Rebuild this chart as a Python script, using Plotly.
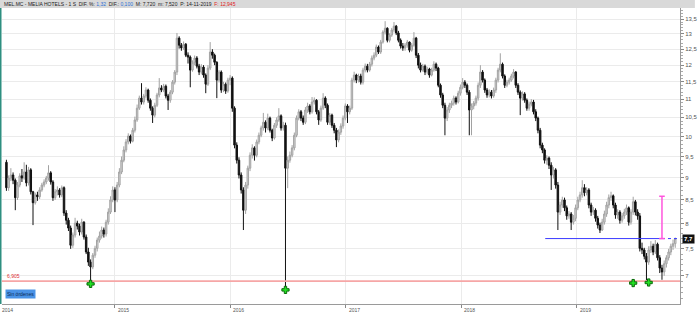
import numpy as np
import pandas as pd
import plotly.graph_objects as go

# ---------------- data (weekly candles, MEL.MC) ----------------
start_date = "2014-01-24"
first_open = 9.36

closes = [
    8.77, 8.99, 9.06, 8.94, 8.55, 8.83, 9.04, 8.99, 9.13, 8.88,
    9.18, 8.68, 8.44, 8.61, 8.57, 8.72, 8.83, 8.90, 8.99, 9.11,
    8.90, 8.55, 8.68, 8.72, 8.61, 8.77, 8.22, 8.07, 7.91, 7.57,
    7.77, 8.01, 7.95, 7.83, 8.03, 7.73, 7.44, 7.25, 7.16, 7.38,
    7.51, 7.67, 7.75, 7.87, 7.79, 8.03, 8.24, 8.50, 8.72, 8.50,
    8.83, 9.13, 9.41, 9.66, 9.86, 10.01, 9.88, 10.16, 10.43, 10.75,
    11.03, 10.92, 11.09, 11.26, 10.97, 10.75, 10.56, 10.83, 11.12, 11.32,
    11.26, 11.37, 11.09, 10.97, 11.20, 11.49, 11.79, 12.86, 12.63, 12.54,
    12.66, 12.31, 12.25, 11.85, 12.09, 12.22, 11.97, 11.79, 11.94, 11.70,
    11.43, 11.91, 12.41, 12.31, 12.09, 11.55, 11.79, 11.26, 11.43, 11.23,
    11.55, 11.61, 10.75, 9.78, 9.41, 9.06, 8.72, 8.28, 8.83, 9.22,
    9.53, 9.71, 9.53, 9.86, 10.03, 10.22, 10.37, 10.22, 10.48, 10.16,
    9.96, 10.29, 10.43, 10.54, 10.22, 10.29, 9.22, 9.41, 9.53, 9.71,
    10.03, 10.48, 10.65, 10.48, 10.37, 10.70, 10.81, 10.65, 10.92, 10.97,
    10.65, 10.43, 10.75, 11.03, 10.83, 10.37, 10.56, 10.29, 10.16, 9.91,
    10.11, 10.27, 10.48, 10.81, 10.65, 10.75, 11.55, 11.70, 11.55, 11.67,
    11.49, 11.85, 11.97, 11.85, 12.03, 12.22, 12.31, 12.57, 12.41, 12.73,
    13.06, 13.19, 12.79, 12.96, 13.13, 13.26, 13.03, 12.79, 12.60, 12.54,
    12.63, 12.73, 12.47, 12.63, 12.86, 12.31, 12.00, 11.85, 11.97, 11.79,
    11.88, 11.70, 11.85, 12.03, 11.91, 11.40, 11.12, 10.83, 10.48, 10.70,
    10.83, 10.89, 11.03, 10.92, 11.17, 11.34, 11.49, 11.40, 11.20, 10.70,
    10.81, 10.89, 11.03, 11.40, 11.79, 11.55, 11.26, 11.12, 11.20, 11.09,
    11.26, 11.55, 11.85, 12.03, 11.67, 11.40, 11.49, 11.55, 11.67, 11.79,
    11.40, 11.20, 11.03, 11.15, 10.97, 10.75, 10.86, 10.92, 10.65, 10.48,
    10.16, 9.78, 9.66, 9.41, 9.46, 9.29, 9.06, 9.18, 8.83, 8.24,
    8.39, 8.50, 8.33, 8.16, 8.20, 8.03, 8.11, 8.33, 8.50, 8.61,
    8.77, 8.66, 8.72, 8.39, 8.24, 8.28, 8.11, 7.97, 7.87, 8.03,
    8.20, 8.39, 8.55, 8.59, 8.39, 8.18, 8.24, 8.07, 8.16, 8.24,
    8.33, 8.03, 8.24, 8.46, 8.24, 8.16, 7.51, 7.48, 7.36, 7.25,
    7.48, 7.55, 7.44, 7.59, 7.33, 7.14, 7.07, 7.22, 7.33, 7.44,
    7.55, 7.60, 7.70,
]

highs = [
    9.42, 9.05, 9.22, 9.12, 8.98, 8.90, 9.10, 9.20, 9.36, 9.30,
    9.25, 9.22, 8.70, 8.66, 8.68, 8.78, 8.88, 8.96, 9.04, 9.29,
    9.15, 8.94, 8.74, 8.80, 8.76, 8.82, 8.80, 8.28, 8.12, 7.96,
    7.82, 8.12, 8.06, 8.00, 8.10, 8.05, 7.78, 7.52, 7.30, 7.42,
    7.56, 7.72, 7.84, 7.94, 7.92, 8.08, 8.32, 8.58, 8.80, 8.78,
    8.90, 9.22, 9.50, 9.75, 9.93, 10.08, 10.05, 10.22, 10.52, 10.85,
    11.10, 11.46, 11.15, 11.34, 11.30, 11.02, 10.80, 10.90, 11.18, 11.61,
    11.40, 11.44, 11.42, 11.15, 11.26, 11.55, 11.85, 13.03, 12.92, 12.70,
    12.75, 12.70, 12.40, 12.30, 12.15, 12.30, 12.28, 12.04, 12.03, 12.00,
    11.75, 12.00, 12.73, 12.50, 12.36, 12.12, 11.85, 11.84, 11.50, 11.48,
    11.62, 11.70, 11.66, 10.80, 9.85, 9.48, 9.12, 8.78, 8.90, 9.28,
    9.60, 9.80, 9.75, 9.92, 10.10, 10.28, 10.62, 10.42, 10.60, 10.52,
    10.20, 10.35, 10.50, 10.75, 10.58, 10.38, 10.36, 9.50, 9.62, 9.78,
    10.10, 10.55, 10.72, 10.70, 10.55, 10.78, 10.90, 10.86, 11.06, 11.05,
    11.00, 10.70, 10.82, 11.17, 11.08, 10.88, 10.62, 10.60, 10.35, 10.22,
    10.18, 10.34, 10.55, 10.88, 10.86, 10.82, 11.62, 11.80, 11.74, 11.74,
    11.74, 11.92, 12.05, 12.04, 12.10, 12.30, 12.40, 12.65, 12.62, 12.80,
    13.12, 13.43, 13.22, 13.02, 13.20, 13.40, 13.30, 13.10, 12.85, 12.70,
    12.70, 12.80, 12.75, 12.70, 13.06, 12.90, 12.38, 12.08, 12.04, 12.02,
    11.95, 11.92, 11.92, 12.12, 12.08, 11.95, 11.45, 11.18, 10.90, 10.78,
    10.90, 10.96, 11.10, 11.08, 11.24, 11.42, 11.61, 11.55, 11.45, 11.26,
    10.88, 10.95, 11.10, 11.48, 12.00, 11.85, 11.60, 11.32, 11.28, 11.26,
    11.33, 11.62, 11.92, 12.37, 12.08, 11.72, 11.56, 11.62, 11.74, 11.88,
    11.82, 11.46, 11.25, 11.22, 11.20, 11.02, 10.93, 11.00, 10.98, 10.72,
    10.52, 10.22, 9.84, 9.70, 9.53, 9.50, 9.36, 9.25, 9.22, 8.90,
    8.46, 8.57, 8.55, 8.38, 8.26, 8.24, 8.18, 8.40, 8.57, 8.68,
    8.94, 8.85, 8.78, 8.76, 8.44, 8.35, 8.32, 8.16, 8.02, 8.10,
    8.27, 8.46, 8.62, 8.68, 8.62, 8.44, 8.30, 8.28, 8.22, 8.31,
    8.40, 8.36, 8.30, 8.57, 8.50, 8.30, 8.22, 7.62, 7.52, 7.42,
    7.55, 7.65, 7.60, 7.67, 7.62, 7.38, 7.20, 7.28, 7.38, 7.50,
    7.60, 7.68, 7.72,
]

lows = [
    8.70, 8.70, 8.92, 8.85, 8.28, 8.50, 8.78, 8.90, 8.95, 8.80,
    8.82, 8.62, 7.97, 8.40, 8.48, 8.52, 8.68, 8.78, 8.85, 8.93,
    8.84, 8.48, 8.50, 8.60, 8.55, 8.56, 8.16, 7.98, 7.85, 7.50,
    7.52, 7.72, 7.88, 7.76, 7.78, 7.68, 7.40, 7.18, 6.905, 7.12,
    7.33, 7.45, 7.62, 7.70, 7.72, 7.74, 7.98, 8.20, 8.45, 8.24,
    8.45, 8.78, 9.08, 9.36, 9.60, 9.80, 9.82, 9.85, 10.10, 10.38,
    10.70, 10.85, 10.85, 11.02, 10.90, 10.68, 10.35, 10.50, 10.78, 11.05,
    11.20, 11.20, 11.02, 10.70, 10.90, 11.14, 11.42, 11.70, 12.52, 12.45,
    12.48, 12.25, 12.05, 11.34, 11.80, 12.00, 11.90, 11.70, 11.72, 11.62,
    11.17, 11.38, 11.85, 12.20, 12.00, 11.03, 11.48, 11.18, 11.20, 11.15,
    11.18, 11.40, 10.65, 9.70, 9.33, 8.98, 8.64, 7.87, 8.20, 8.75,
    9.15, 9.45, 9.40, 9.48, 9.80, 9.98, 10.15, 10.10, 10.16, 10.10,
    9.88, 9.92, 10.22, 10.38, 10.15, 10.15, 6.80, 8.76, 9.35, 9.48,
    9.65, 9.98, 10.42, 10.40, 10.30, 10.32, 10.62, 10.58, 10.60, 10.85,
    10.58, 10.30, 10.38, 10.70, 10.75, 10.30, 10.30, 10.22, 10.08, 9.73,
    9.85, 10.04, 10.20, 10.42, 10.35, 10.58, 10.70, 11.48, 11.46, 11.48,
    11.42, 11.42, 11.78, 11.78, 11.80, 11.96, 12.15, 12.25, 12.35, 12.35,
    12.68, 12.98, 12.72, 12.72, 12.90, 13.05, 12.96, 12.72, 12.52, 12.45,
    12.45, 12.55, 12.40, 12.42, 12.58, 12.22, 11.90, 11.78, 11.80, 11.70,
    11.72, 11.62, 11.66, 11.80, 11.82, 11.34, 11.04, 10.75, 10.03, 10.40,
    10.62, 10.75, 10.82, 10.85, 10.88, 11.10, 11.28, 11.32, 11.12, 10.03,
    10.03, 10.72, 10.82, 10.96, 11.32, 11.48, 11.18, 11.04, 11.05, 11.02,
    11.04, 11.18, 11.48, 11.78, 11.60, 11.32, 11.34, 11.42, 11.50, 11.60,
    11.32, 11.12, 10.56, 10.96, 10.90, 10.68, 10.68, 10.80, 10.58, 10.40,
    10.08, 9.70, 9.58, 9.33, 9.30, 9.20, 8.72, 8.98, 8.75, 7.87,
    8.18, 8.33, 8.26, 8.08, 8.10, 7.87, 7.98, 8.05, 8.28, 8.45,
    8.55, 8.58, 8.60, 8.32, 8.16, 8.18, 8.04, 7.90, 7.81, 7.85,
    7.98, 8.14, 8.32, 8.48, 8.32, 8.10, 8.10, 8.00, 8.02, 8.10,
    8.18, 7.96, 7.98, 8.18, 8.17, 8.08, 7.45, 7.40, 7.30, 6.92,
    7.20, 7.42, 7.38, 7.40, 7.28, 7.05, 6.93, 7.00, 7.15, 7.28,
    7.38, 7.48, 7.52,
]

# buy-signal markers (dates of the marked lows)
signal_dates = ["2014-10-17", "2016-06-24", "2019-06-28", "2019-08-16"]
signal_lows = [6.905, 6.80, 6.92, 6.93]

support_level = 6.905
resistance_level = 7.70
resistance_start = "2018-09-23"
resistance_mark = "2019-09-27"
resistance_end = "2019-11-15"
target_level = 8.58
last_price = 7.70

y_tick_vals = [7, 7.5, 8, 8.5, 9, 9.5, 10, 10.5, 11, 11.5, 12, 12.5, 13, 13.5]
y_tick_text = ["7", "7,5", "8", "8,5", "9", "9,5", "10", "10,5", "11", "11,5",
               "12", "12,5", "13", "13,5"]
year_dates = ["2015-01-01", "2016-01-01", "2017-01-01", "2018-01-01", "2019-01-01"]
year_labels = ["2015", "2016", "2017", "2018", "2019"]

header = ("MEL.MC - MELIA HOTELS - 1 S &nbsp;DIF. %: <span style='color:#2a6fd6'>1,32</span>"
          " &nbsp;DIF.: <span style='color:#2a6fd6'>0,100</span> &nbsp;M: 7,720 &nbsp;m: 7,520"
          " &nbsp;P: 14-11-2019 &nbsp;<span style='color:#e02020'>F: 12,945</span>")

# ---------------- build ----------------
assert len(closes) == len(highs) == len(lows)
n = len(closes)
dates = pd.date_range(start_date, periods=n, freq="7D")
opens = [first_open] + closes[:-1]
highs = [max(h, o, c) for h, o, c in zip(highs, opens, closes)]
lows = [min(l, o, c) for l, o, c in zip(lows, opens, closes)]

FONT = "Arial, Liberation Sans, sans-serif"
W, H = 700, 312
ML, MR, MT, MB = 2, 15, 8, 8
PW, PH = W - ML - MR, H - MT - MB
ylo, yhi = 6.513, 13.89

fig = go.Figure()

# support line (red)
fig.add_trace(go.Scatter(x=["2013-11-01", "2020-02-01"], y=[support_level, support_level],
                         mode="lines", line=dict(color="#f6a6a6", width=1.8),
                         hoverinfo="skip", showlegend=False))

fig.add_trace(go.Candlestick(
    x=dates, open=opens, high=highs, low=lows, close=closes,
    increasing=dict(line=dict(color="#a2a2a2", width=1), fillcolor="#d8d8d8"),
    decreasing=dict(line=dict(color="#111111", width=1), fillcolor="#111111"),
    whiskerwidth=0, showlegend=False))

# resistance line (blue)
fig.add_trace(go.Scatter(x=[resistance_start, resistance_mark], y=[resistance_level] * 2,
                         mode="lines", line=dict(color="#3a3aff", width=1),
                         hoverinfo="skip", showlegend=False))
fig.add_trace(go.Scatter(x=[resistance_mark, resistance_end], y=[resistance_level] * 2,
                         mode="lines", line=dict(color="#3a3aff", width=1, dash="dot"),
                         hoverinfo="skip", showlegend=False))
# target (pink)
fig.add_trace(go.Scatter(x=[resistance_mark, resistance_mark], y=[resistance_level, target_level],
                         mode="lines+markers", line=dict(color="#ff55dd", width=1.5),
                         marker=dict(symbol="line-ew", size=4, line=dict(color="#ff55dd", width=1.5)),
                         hoverinfo="skip", showlegend=False))
# signal markers
fig.add_trace(go.Scatter(x=signal_dates, y=[v * 0.993 for v in signal_lows], mode="markers",
                         marker=dict(symbol="cross", size=6, color="#22e022",
                                     line=dict(color="#0a6a0a", width=1)),
                         hoverinfo="skip", showlegend=False))

minor_vals = [round(v, 1) for v in np.arange(6.6, 13.85, 0.1)]

fig.update_layout(
    width=W, height=H, margin=dict(l=ML, r=MR, t=MT, b=MB),
    paper_bgcolor="white", plot_bgcolor="white", showlegend=False,
    boxgap=0.05,
    font=dict(family=FONT, size=6, color="#444"),
    xaxis=dict(type="date", range=["2014-01-10", "2019-11-23"], rangeslider=dict(visible=False),
               tickvals=year_dates, showticklabels=False, ticks="outside", ticklen=3,
               tickcolor="#888", showgrid=True, gridcolor="#ebebeb", gridwidth=1,
               showline=True, linecolor="#9a9a9a", linewidth=1, zeroline=False),
    yaxis=dict(type="log", side="right", range=[np.log10(ylo), np.log10(yhi)],
               tickvals=y_tick_vals, ticktext=y_tick_text, ticks="outside", ticklen=3,
               tickcolor="#888", tickfont=dict(size=6, color="#555"),
               showgrid=True, gridcolor="#ebebeb", gridwidth=1,
               showline=True, linecolor="#9a9a9a", linewidth=1, zeroline=False,
               minor=dict(tickvals=minor_vals, ticks="outside", ticklen=2, tickcolor="#aaa",
                          showgrid=False)),
)

shapes = [
    # header bar
    dict(type="rect", xref="paper", yref="paper", x0=-ML / PW, x1=1 + MR / PW,
         y0=1, y1=1 + MT / PH, fillcolor="#d9d9d9", line=dict(width=0), layer="above"),
    # left teal edge
    dict(type="line", xref="paper", yref="paper", x0=-1.5 / PW, x1=-1.5 / PW, y0=0, y1=1,
         line=dict(color="#2e8f80", width=2)),
]
fig.update_layout(shapes=shapes)

ann = [
    dict(xref="paper", yref="paper", x=0, y=1 + (MT / 2) / PH, xanchor="left", yanchor="middle",
         text=header, showarrow=False, font=dict(size=5, color="#222")),
    dict(xref="paper", yref="y", x=3 / PW, y=np.log10(support_level), xanchor="left",
         yanchor="bottom", text="6,905", showarrow=False, font=dict(size=5, color="#e03030")),
    dict(xref="paper", yref="paper", x=3 / PW, y=(304 - 293.5) / PH,
         xanchor="left", yanchor="middle", text="Sin órdenes", showarrow=False,
         bgcolor="#4a93e6", borderpad=1, font=dict(size=5, color="#0b2a55")),
    dict(xref="paper", yref="y", x=1, y=np.log10(last_price), xanchor="left", yanchor="middle",
         xshift=2, text="<b>7,7</b>", showarrow=False, bgcolor="#111", borderpad=1,
         font=dict(size=6, color="white")),
    dict(xref="paper", yref="paper", x=0, y=0, xanchor="left", yanchor="top", xshift=-2,
         yshift=-1, text="2014", showarrow=False, font=dict(size=5, color="#555")),
]
for d, lab in zip(year_dates, year_labels):
    ann.append(dict(xref="x", yref="paper", x=d, y=0, xanchor="left", yanchor="top",
                    xshift=1, yshift=-1, text=lab, showarrow=False,
                    font=dict(size=5, color="#555")))
fig.update_layout(annotations=ann)

fig.write_html("out.html")
